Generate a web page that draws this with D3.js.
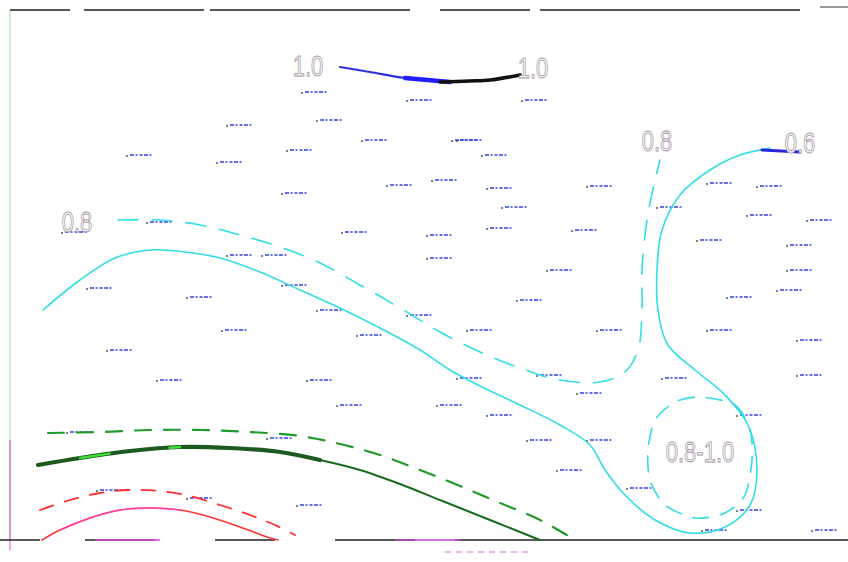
<!DOCTYPE html>
<html>
<head>
<meta charset="utf-8">
<script src="https://cdn.jsdelivr.net/npm/d3@7"></script>
<style>
  html, body { margin: 0; padding: 0; background: #fff; }
  svg { display: block; }
</style>
</head>
<body>
<svg id="map" width="848" height="562"></svg>
<script>
// Isoline map: map units are easting / northing from the lower-left corner of the frame.

// cyan isolines
const cyanSolid = [[33,230],[70,260],[105,282],[140,290],[175,288],[210,282],[250,268],[290,250],[330,232],[370,212],[410,190],[440,170],[470,154],[510,135],[550,115],[580,95],[595,70],[615,45],[645,20],[680,7],[715,13],[740,35],[747,70],[738,115],[715,145],[685,170],[658,195],[648,230],[647,270],[652,310],[670,345],[700,370],[730,385],[760,392]];
const cyanDashed = [[108,320],[150,320],[190,315],[230,305],[270,293],[310,277],[350,255],[390,232],[430,208],[470,188],[510,172],[550,160],[590,158],[615,168],[628,190],[632,230],[632,270],[637,320],[645,360],[650,380]];
const cyanRing = [[690,143],[725,135],[740,110],[742,80],[735,45],[715,27],[685,22],[655,35],[640,60],[638,90],[645,120],[665,138]];

// upper isoline (1.0)
const topBlue = [[330,473],[360,468],[395,462],[440,458]];
const topBlack = [[430,458],[460,459],[480,460],[510,465]];
const eastTick = [[752,390],[790,388]];

// green isolines
const greenDashed = [[38,107],[90,108],[140,110],[190,110],[240,108],[290,104],[330,96],[370,85],[410,70],[450,54],[490,37],[530,20],[565,0]];
const greenSolid = [[28,75],[70,82],[120,89],[170,93],[220,92],[270,88],[310,80],[350,70],[390,56],[430,40],[470,24],[510,8],[530,0]];

// red isolines
const redDashed = [[30,30],[60,40],[90,47],[120,50],[150,49],[180,44],[210,35],[240,25],[265,15],[285,5]];
const redSolid = [[32,0],[50,10],[80,22],[110,30],[140,32],[170,30],[200,23],[230,13],[260,2],[268,0]];

// isoline values
const valueLabels = ["1.0", "1.0", "0.8", "0.6", "0.8", "0.8-1.0"];
const valueAt = [[298,474],[523,472],[647,399],[790,397],[67,318],[690,88]];

// stations
const stations = [[295,448],[400,440],[515,440],[310,420],[220,415],[355,400],[445,400],[475,385],[120,385],[210,378],[280,390],[380,355],[425,360],[480,352],[580,354],[275,347],[495,333],[650,333],[700,357],[750,354],[800,320],[740,325],[335,308],[420,305],[480,312],[565,310],[690,300],[780,295],[420,282],[540,270],[780,270],[80,252],[180,243],[275,255],[510,240],[720,243],[770,250],[310,230],[400,225],[460,210],[590,210],[700,210],[215,210],[350,205],[790,200],[100,190],[300,160],[150,160],[450,162],[530,165],[570,147],[655,162],[790,165],[330,135],[430,135],[480,125],[260,102],[580,100],[520,100],[730,125],[550,70],[620,52],[695,10],[730,30],[290,35],[805,10],[90,50],[180,42],[255,285],[220,285],[140,318],[450,400],[60,108],[55,308]];

const svg = d3.select("#map");
const x = d3.scaleLinear().domain([0, 810]).range([10, 820]);
const y = d3.scaleLinear().domain([0, 530]).range([540, 10]);

const line = d3.line().x(d => x(d[0])).y(d => y(d[1])).curve(d3.curveCatmullRom.alpha(0.5));
const ring = d3.line().x(d => x(d[0])).y(d => y(d[1])).curve(d3.curveCardinalClosed.tension(0.2));

// frame
const g = svg.append("g");
g.append("line").attr("x1", x(0)).attr("x2", x(810)).attr("y1", y(530)).attr("y2", y(530))
  .attr("stroke", "#222").attr("stroke-width", 1.4).attr("stroke-dasharray", "60 14 120 6 200 30 90 10 260");
g.append("line").attr("x1", x(810)).attr("x2", 848).attr("y1", y(533)).attr("y2", y(533))
  .attr("stroke", "#333").attr("stroke-width", 1);
g.append("line").attr("x1", x(0)).attr("x2", x(0)).attr("y1", y(530)).attr("y2", y(0))
  .attr("stroke", "#6ccf6c").attr("stroke-width", 1).attr("opacity", 0.7);
g.append("line").attr("x1", x(0)).attr("x2", x(0)).attr("y1", y(100)).attr("y2", y(-10))
  .attr("stroke", "#e040e0").attr("stroke-width", 1.2).attr("opacity", 0.8);
g.append("line").attr("x1", 0).attr("x2", 848).attr("y1", y(0)).attr("y2", y(0))
  .attr("stroke", "#222").attr("stroke-width", 1.3).attr("stroke-dasharray", "40 45 70 60 60 60 80 40 400");
g.append("line").attr("x1", x(85)).attr("x2", x(150)).attr("y1", y(0)).attr("y2", y(0))
  .attr("stroke", "#e040e0").attr("stroke-width", 1.3);
g.append("line").attr("x1", x(385)).attr("x2", x(450)).attr("y1", y(0)).attr("y2", y(0))
  .attr("stroke", "#c040d0").attr("stroke-width", 1.3);
g.append("line").attr("x1", x(435)).attr("x2", x(520)).attr("y1", y(-12)).attr("y2", y(-12))
  .attr("stroke", "#d070d0").attr("stroke-width", 1.2).attr("stroke-dasharray", "6 5");

// stations
const st = svg.append("g");
st.selectAll("line.st").data(stations).join("line").attr("class", "st")
  .attr("x1", d => x(d[0])).attr("x2", d => x(d[0]) + 22)
  .attr("y1", d => y(d[1])).attr("y2", d => y(d[1]))
  .attr("stroke", "#2f3fe8").attr("stroke-width", 2).attr("stroke-dasharray", "4 1.5 2 2 3 1.5")
  .attr("opacity", 0.75);
st.selectAll("circle.st").data(stations).join("circle").attr("class", "st")
  .attr("cx", d => x(d[0]) - 3).attr("cy", d => y(d[1]) + 1).attr("r", 0.9)
  .attr("fill", "#444");

// isolines
const iso = svg.append("g").attr("fill", "none").attr("stroke-linecap", "round");
iso.append("path").datum(cyanSolid).attr("d", line).attr("stroke", "#33dde6").attr("stroke-width", 1.6);
iso.append("path").datum(cyanDashed).attr("d", line).attr("stroke", "#33dde6").attr("stroke-width", 1.6)
  .attr("stroke-dasharray", "20 14");
iso.append("path").datum(cyanRing).attr("d", ring).attr("stroke", "#33dde6").attr("stroke-width", 1.6)
  .attr("stroke-dasharray", "16 12");

iso.append("path").datum(topBlue).attr("d", line).attr("stroke", "#3030e0").attr("stroke-width", 2.2);
iso.append("path").datum(topBlue.slice(2)).attr("d", line).attr("stroke", "#2020ff").attr("stroke-width", 4.5);
iso.append("path").datum(topBlack).attr("d", line).attr("stroke", "#111").attr("stroke-width", 3.6);
iso.append("path").datum(eastTick).attr("d", line).attr("stroke", "#2828d8").attr("stroke-width", 3);

iso.append("path").datum(greenDashed).attr("d", line).attr("stroke", "#1f9a2a").attr("stroke-width", 2.2)
  .attr("stroke-dasharray", "16 13");
iso.append("path").datum(greenSolid.slice(6)).attr("d", line).attr("stroke", "#1b6a1f").attr("stroke-width", 2);
iso.append("path").datum(greenSolid.slice(0, 7)).attr("d", line).attr("stroke", "#1d5a20").attr("stroke-width", 4.2);
iso.append("path").datum(greenSolid.slice(1, 4)).attr("d", line).attr("stroke", "#3be03b").attr("stroke-width", 2.4)
  .attr("stroke-dasharray", "30 60");

iso.append("path").datum(redDashed).attr("d", line).attr("stroke", "#ff3030").attr("stroke-width", 1.8)
  .attr("stroke-dasharray", "14 12");
iso.append("path").datum(redSolid).attr("d", line).attr("stroke", "#ff3636").attr("stroke-width", 1.7);
iso.append("path").datum(redSolid.slice(1, 6)).attr("d", line).attr("stroke", "#ff40c8").attr("stroke-width", 1.4)
  .attr("opacity", 0.8);

// value labels: tall, condensed outline figures
svg.append("g").selectAll("text").data(valueLabels).join("text")
  .attr("transform", (d, i) => `translate(${x(valueAt[i][0])},${y(valueAt[i][1])}) scale(0.76,1)`)
  .attr("dy", "0.36em").attr("text-anchor", "middle")
  .attr("font-family", "'Liberation Sans', Arial, sans-serif")
  .attr("font-size", 29).attr("fill", "#fff").attr("stroke", "#a596a2").attr("stroke-width", 0.9)
  .text(d => d);
</script>
</body>
</html>
